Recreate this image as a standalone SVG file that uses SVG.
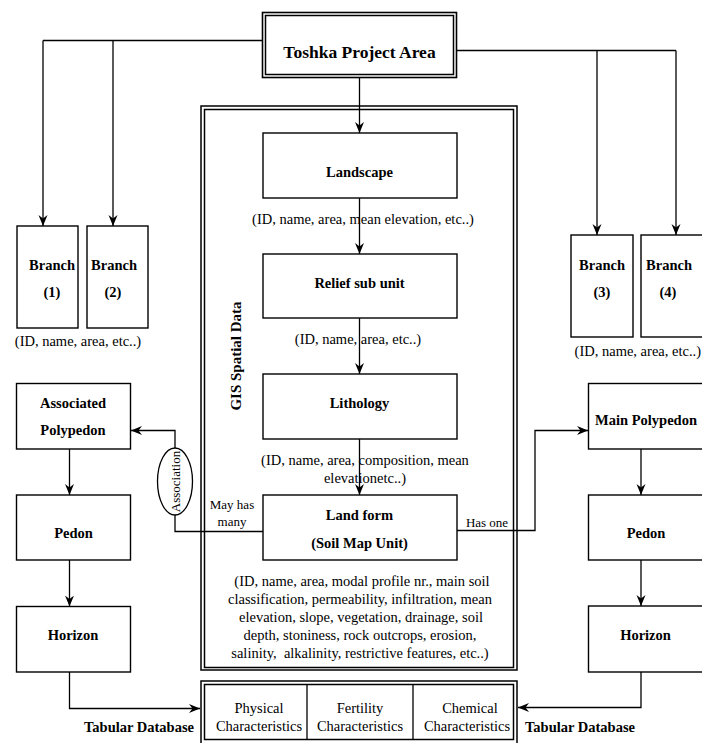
<svg xmlns="http://www.w3.org/2000/svg" width="702" height="743" viewBox="0 0 702 743">
<defs>
<marker id="ah" markerWidth="12" markerHeight="10" refX="11" refY="5" orient="auto" markerUnits="userSpaceOnUse">
<path d="M0,0.5 L11,5 L0,9.5 L3.5,5 Z" fill="#000"/>
</marker>
<style>
.box{fill:#fff;stroke:#000;stroke-width:1.4}
.dbl{fill:none;stroke:#000;stroke-width:1.5}
.ln{fill:none;stroke:#000;stroke-width:1.3}
.arr{fill:none;stroke:#000;stroke-width:1.3;marker-end:url(#ah)}
text{font-family:"Liberation Serif","Times New Roman",serif;fill:#000}
.b{font-weight:bold;font-size:14.5px;text-anchor:middle}
.r{font-size:14.5px;text-anchor:middle}
.s{font-size:13px;text-anchor:middle}
</style>
</defs>
<rect x="0" y="0" width="702" height="743" fill="#fff"/>

<g id="connectors">
<path class="ln" d="M262,40.5 H43"/>
<path class="arr" d="M43,40.5 V226"/>
<path class="arr" d="M113,40.5 V226"/>
<path class="ln" d="M457,50.5 H676"/>
<path class="arr" d="M597,50.5 V235"/>
<path class="arr" d="M676,50.5 V235"/>
<path class="arr" d="M359.5,78 V133"/>
<path class="arr" d="M359.5,198 V254"/>
<path class="arr" d="M359.5,318 V374"/>
<path class="arr" d="M359.5,439 V495"/>
<path class="ln" d="M263,531.5 H175 V515"/>
<path class="arr" d="M175,448 V430.5 H131"/>
<path class="arr" d="M457,530.5 H535 V430.5 H588"/>
<path class="arr" d="M69.5,449 V495"/>
<path class="arr" d="M69.5,560 V606.5"/>
<path class="arr" d="M69.5,672 V708.5 H200"/>
<path class="arr" d="M641,449 V495"/>
<path class="arr" d="M641,560 V606"/>
<path class="arr" d="M641,672 V707.5 H518"/>
</g>

<g id="toshka">
<rect x="262.5" y="12.5" width="194" height="65" fill="#fff" stroke="#000" stroke-width="1.6"/>
<rect x="265.5" y="15.5" width="188" height="59" class="dbl" stroke-width="1.2"/>
<text x="359.5" y="58" class="b" style="font-size:17.5px">Toshka Project Area</text>
</g>

<g id="gis-container">
<rect x="201" y="106" width="316" height="564" class="dbl"/>
<rect x="204.5" y="109.5" width="309" height="558" class="dbl" stroke-width="1.2"/>
<text transform="translate(241,356) rotate(-90)" class="b" style="font-size:15px">GIS Spatial Data</text>
</g>

<g id="branch1">
<rect x="17" y="226" width="61" height="102" class="box"/>
<text x="52" y="270" class="b">Branch</text>
<text x="52" y="297" class="b">(1)</text>
</g>
<g id="branch2">
<rect x="87" y="226" width="61" height="102" class="box"/>
<text x="114" y="270" class="b">Branch</text>
<text x="113" y="297" class="b">(2)</text>
</g>
<text x="78" y="346" class="r">(ID, name, area, etc..)</text>

<g id="branch3">
<rect x="571" y="235" width="62" height="102" class="box"/>
<text x="602" y="270" class="b">Branch</text>
<text x="602" y="297" class="b">(3)</text>
</g>
<g id="branch4">
<rect x="641" y="235" width="62" height="102" class="box"/>
<text x="669" y="270" class="b">Branch</text>
<text x="668" y="297" class="b">(4)</text>
</g>
<text x="701" y="356" style="font-size:14.5px;text-anchor:end">(ID, name, area, etc..)</text>

<g id="landscape">
<rect x="263" y="133" width="194" height="65" class="box"/>
<text x="359.5" y="177" class="b">Landscape</text>
</g>
<text x="363" y="224" class="r">(ID, name, area, mean elevation, etc..)</text>

<g id="relief">
<rect x="263" y="254" width="194" height="64" class="box"/>
<text x="359.5" y="288" class="b">Relief sub unit</text>
</g>
<text x="358" y="344" class="r">(ID, name, area, etc..)</text>

<g id="lithology">
<rect x="263" y="374" width="194" height="65" class="box"/>
<text x="359.5" y="408" class="b">Lithology</text>
</g>
<text x="365" y="465" class="r">(ID, name, area, composition, mean</text>
<text x="365" y="483" class="r">elevationetc..)</text>

<g id="landform">
<rect x="263" y="495" width="194" height="65" class="box"/>
<text x="359.5" y="520" class="b">Land form</text>
<text x="359.5" y="548" class="b">(Soil Map Unit)</text>
</g>
<text x="362" y="586" class="r">(ID, name, area, modal profile nr., main soil</text>
<text x="360" y="604" class="r">classification, permeability, infiltration, mean</text>
<text x="361" y="622" class="r">elevation, slope, vegetation, drainage, soil</text>
<text x="360" y="640" class="r">depth, stoniness, rock outcrops, erosion,</text>
<text x="360" y="658" class="r" xml:space="preserve">salinity,  alkalinity, restrictive features, etc..)</text>

<g id="association">
<ellipse cx="175" cy="481.5" rx="17.5" ry="33.5" fill="#fff" stroke="#000" stroke-width="1.3"/>
<text transform="translate(179.5,481.5) rotate(-90)" class="s">Association</text>
</g>
<text x="232" y="509" class="s">May has</text>
<text x="232" y="526" class="s">many</text>
<text x="487" y="527" class="s">Has one</text>

<g id="assoc-polypedon">
<rect x="16.5" y="383.5" width="114" height="65.5" class="box"/>
<text x="73" y="408" class="b">Associated</text>
<text x="73" y="435" class="b">Polypedon</text>
</g>
<g id="pedon-left">
<rect x="16.5" y="495" width="114" height="65" class="box"/>
<text x="73.5" y="538" class="b">Pedon</text>
</g>
<g id="horizon-left">
<rect x="16.5" y="606.5" width="114" height="65.5" class="box"/>
<text x="73" y="640" class="b">Horizon</text>
</g>

<g id="main-polypedon">
<rect x="588.5" y="383.5" width="116" height="65.5" class="box"/>
<text x="646" y="425" class="b">Main Polypedon</text>
</g>
<g id="pedon-right">
<rect x="588.5" y="495" width="116" height="65" class="box"/>
<text x="646" y="538" class="b">Pedon</text>
</g>
<g id="horizon-right">
<rect x="588.5" y="606" width="116" height="66" class="box"/>
<text x="645.5" y="640" class="b">Horizon</text>
</g>

<g id="tabular">
<rect x="201" y="681" width="316" height="64" class="dbl"/>
<rect x="204.5" y="684.5" width="309" height="55" class="dbl" stroke-width="1.2"/>
<path class="ln" d="M307,684.5 V739.5 M413,684.5 V739.5"/>
<text x="259" y="713" class="r">Physical</text>
<text x="259" y="731" class="r">Characteristics</text>
<text x="360" y="713" class="r">Fertility</text>
<text x="360" y="731" class="r">Characteristics</text>
<text x="470" y="713" class="r">Chemical</text>
<text x="467" y="731" class="r">Characteristics</text>
<text x="139" y="732" class="b">Tabular Database</text>
<text x="580" y="732" class="b">Tabular Database</text>
</g>
</svg>
